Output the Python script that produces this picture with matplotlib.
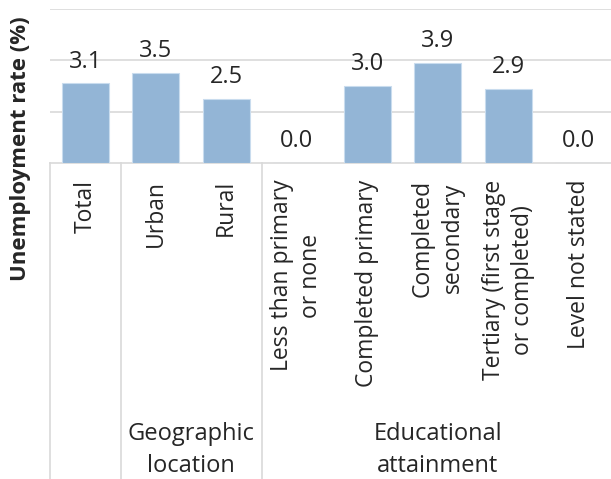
import matplotlib
matplotlib.use("Agg")
import matplotlib.pyplot as plt
from matplotlib.transforms import blended_transform_factory
from matplotlib.lines import Line2D

categories = ["Total", "Urban", "Rural", "Less than primary\nor none",
              "Completed primary", "Completed\nsecondary",
              "Tertiary (first stage\nor completed)", "Level not stated"]
values = [3.1, 3.5, 2.5, 0.0, 3.0, 3.9, 2.9, 0.0]
groups = ["Geographic\nlocation", "Educational\nattainment"]
group_centers = [1.5, 5.0]
separators = [-0.5, 0.5, 2.5, 7.5]

plt.rcParams['font.family'] = ['Open Sans', 'DejaVu Sans']
txt = '#262626'
grid = '#d9d9d9'

fig = plt.figure(figsize=(6.11, 4.79), dpi=100)
W, H = 611, 479
ax = fig.add_axes([50 / W, 1 - 163 / H, 564 / W, 154 / H])

x = range(len(categories))
ax.bar(x, values, width=0.66, color='#93b5d6', edgecolor='#c9dcee', linewidth=0.8, zorder=3)
for xi, v in zip(x, values):
    ax.annotate(f"{v:.1f}", (xi, v), xytext=(0, 7), textcoords='offset points',
                ha='center', va='bottom', fontsize=17, color=txt)

ax.set_xlim(-0.5, 7.5)
ax.set_ylim(0, 6)
ax.set_yticks([2, 4, 6])
ax.set_yticklabels([])
ax.tick_params(axis='y', length=0)
ax.grid(axis='y', color=grid, linewidth=1.2, zorder=0)
for s in ['top', 'right', 'left']:
    ax.spines[s].set_visible(False)
ax.spines['bottom'].set_color(grid)
ax.spines['bottom'].set_linewidth(1.2)

ax.set_xticks(list(x))
ax.set_xticklabels(categories, rotation=90, ha='center', va='top',
                   multialignment='center', fontsize=16.5, color=txt, linespacing=1.3)
ax.tick_params(axis='x', length=0, pad=12)

tr = blended_transform_factory(ax.transData, fig.transFigure)
for s in separators:
    fig.add_artist(Line2D([s, s], [0, 1 - 163 / H], transform=tr, color=grid, linewidth=1.2))
for g, c in zip(groups, group_centers):
    fig.text(c, 1 - 450 / H, g, transform=tr, ha='center', va='center',
             fontsize=17, color=txt, linespacing=1.4)

fig.text(21 / W, 1 - 149 / H, "Unemployment rate (%)", rotation=90, ha='center', va='center',
         fontsize=16, fontweight='bold', color=txt)

fig.savefig("out.png", dpi=100)
